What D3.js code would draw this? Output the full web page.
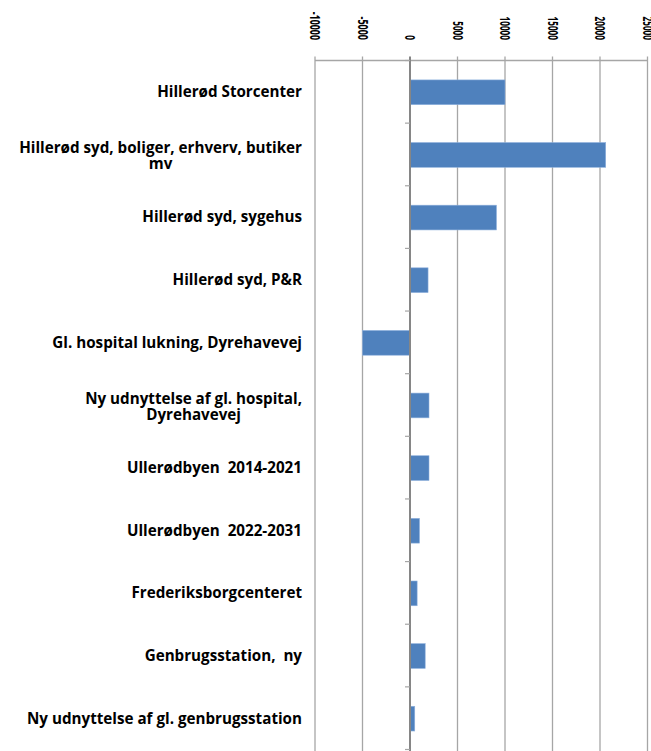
<!DOCTYPE html>
<html lang="da">
<head>
<meta charset="UTF-8">
<title>Hillerød projekter</title>
<script src="https://d3js.org/d3.v7.min.js"></script>
<style>
  body { margin: 0; background: #fff; }
  .catLabel { font-family: 'Open Sans', 'Liberation Sans', sans-serif; font-weight: bold; font-size: 15.2px; fill: #000; white-space: pre; }
  .tickLabel { font-family: 'Open Sans', 'Liberation Sans', sans-serif; font-weight: bold; font-size: 13.5px; fill: #000; }
  .grid { stroke: #a6a6a6; stroke-width: 1.3; }
</style>
</head>
<body>
<script>
  // kategorier (linjeskift som i originalen)
  const categories = [
    ["Hillerød Storcenter"],
    ["Hillerød syd, boliger, erhverv, butiker", "mv"],
    ["Hillerød syd, sygehus"],
    ["Hillerød syd, P&R"],
    ["Gl. hospital lukning, Dyrehavevej"],
    ["Ny udnyttelse af gl. hospital,", "Dyrehavevej"],
    ["Ullerødbyen  2014-2021"],
    ["Ullerødbyen  2022-2031"],
    ["Frederiksborgcenteret"],
    ["Genbrugsstation,  ny"],
    ["Ny udnyttelse af gl. genbrugsstation"]
  ];
  const values = [10000, 20600, 9100, 1900, -5000, 2000, 2000, 1000, 750, 1600, 500];
  const tickValues = [-10000, -5000, 0, 5000, 10000, 15000, 20000, 25000];

  const width = 651, height = 751;
  const plotLeft = 315, plotRight = 647.5, plotTop = 60.5, plotBottom = 749.5;

  const svg = d3.select('body').append('svg')
    .attr('width', width)
    .attr('height', height);

  const x = d3.scaleLinear().domain([-10000, 25000]).range([plotLeft, plotRight]);
  const y = d3.scaleBand().domain(d3.range(categories.length)).range([plotTop, plotBottom]).padding(0);
  const step = y.step();

  // lodrette gitterlinjer
  svg.selectAll('.grid').data(tickValues.filter(d => d !== 0)).enter()
    .append('line')
    .attr('class', 'grid')
    .attr('x1', d => x(d)).attr('x2', d => x(d))
    .attr('y1', plotTop - 4).attr('y2', plotBottom + 2);

  // top akse linje
  svg.append('line')
    .attr('x1', plotLeft).attr('x2', plotRight)
    .attr('y1', plotTop).attr('y2', plotTop)
    .attr('stroke', '#a6a6a6').attr('stroke-width', 1.3);

  // søjler
  svg.selectAll('.bar').data(values).enter()
    .append('rect')
    .attr('class', 'bar')
    .attr('x', d => x(Math.min(0, d)))
    .attr('width', d => Math.abs(x(d) - x(0)))
    .attr('y', (d, i) => y(i) + step * 0.31)
    .attr('height', step * 0.395)
    .attr('fill', '#4f81bd')
    .attr('stroke', '#8eb0dc')
    .attr('stroke-width', 0.6);

  // nul-linje og kategori-tick
  svg.append('line')
    .attr('x1', x(0)).attr('x2', x(0))
    .attr('y1', plotTop - 4).attr('y2', plotBottom + 2)
    .attr('stroke', '#868686').attr('stroke-width', 2);
  svg.selectAll('.catTick').data(d3.range(categories.length + 1)).enter()
    .append('line')
    .attr('x1', x(0) - 5).attr('x2', x(0))
    .attr('y1', i => plotTop + i * step).attr('y2', i => plotTop + i * step)
    .attr('stroke', '#a6a6a6').attr('stroke-width', 1.2);

  // akse-tal, roteret
  svg.selectAll('.tickLabel').data(tickValues).enter()
    .append('text')
    .attr('class', 'tickLabel')
    .attr('text-anchor', 'end')
    .attr('dy', '0.36em')
    .attr('textLength', d => String(d).length * 4.7)
    .attr('lengthAdjust', 'spacingAndGlyphs')
    .attr('transform', d => `translate(${x(d)},40) rotate(90)`)
    .text(d => String(d));

  // kategori-etiketter, centreret blok, højrestillet
  const labelRight = 302, lineH = 16;
  categories.forEach((lines, i) => {
    const g = svg.append('g');
    const cy = y(i) + step / 2 + (lines.length > 1 ? 1.5 : 0);
    const texts = lines.map((t, k) => g.append('text')
      .attr('class', 'catLabel')
      .attr('y', cy + (k - (lines.length - 1) / 2) * lineH)
      .attr('dy', '0.35em')
      .text(t));
    const maxW = d3.max(texts, t => t.node().getComputedTextLength());
    texts.forEach(t => t.attr('x', labelRight - maxW / 2).attr('text-anchor', 'middle'));
  });
</script>
</body>
</html>
